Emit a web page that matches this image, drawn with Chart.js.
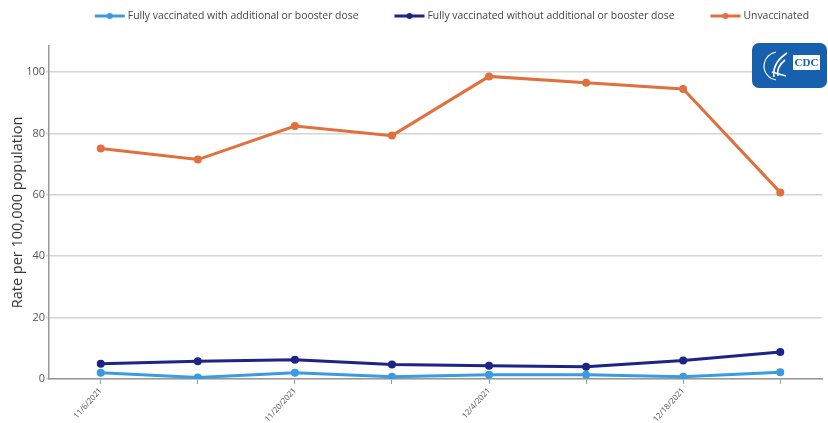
<!DOCTYPE html>
<html><head><meta charset="utf-8">
<script src="https://cdn.jsdelivr.net/npm/chart.js@4.4.0/dist/chart.umd.min.js"></script>
<style>html,body{margin:0;padding:0;background:#fff;}#wrap{width:828px;height:423px;position:relative;}</style>
</head><body><div id="wrap"><canvas id="c" width="828" height="423"></canvas></div>
<script>
const weeks = ["11/6/2021","11/13/2021","11/20/2021","11/27/2021","12/4/2021","12/11/2021","12/18/2021","12/25/2021"];
const booster = [2.0, 0.5, 2.0, 0.7, 1.4, 1.4, 0.7, 2.2];
const noBooster = [5.0, 5.8, 6.3, 4.7, 4.3, 4.0, 6.0, 8.8];
const unvaccinated = [75.1, 71.5, 82.4, 79.3, 98.6, 96.5, 94.5, 60.8];
const seriesNames = ["Fully vaccinated with additional or booster dose","Fully vaccinated without additional or booster dose","Unvaccinated"];
const colors = ["#3a9be3","#1c2486","#e0703d"];
const yTicks = [0,20,40,60,80,100];

const series=[booster,noBooster,unvaccinated];
const datasets = series.map((s,i)=>({
  label: seriesNames[i],
  data: s.map((v,j)=>({x:j,y:v})),
  borderColor: colors[i], backgroundColor: colors[i],
  borderWidth: 3, pointRadius: 2.5, pointHoverRadius: 3, tension: 0
}));

const legendFont = '10.4px "Open Sans"';
const customLegend = {
  id:'customLegend',
  afterDraw(chart){
    const ctx=chart.ctx; ctx.save();
    ctx.font=legendFont; ctx.textBaseline='middle'; ctx.textAlign='left';
    const y=16, sym=30, gap=3, between=36, right=809;
    const widths=chart.data.datasets.map(d=>sym+gap+ctx.measureText(d.label).width);
    let total=widths.reduce((a,b)=>a+b,0)+between*(widths.length-1);
    let x=right-total;
    chart.data.datasets.forEach((d,i)=>{
      ctx.strokeStyle=d.borderColor; ctx.lineWidth=3;
      ctx.beginPath(); ctx.moveTo(x,y); ctx.lineTo(x+sym,y); ctx.stroke();
      ctx.fillStyle=d.borderColor; ctx.beginPath(); ctx.arc(x+sym/2,y,3,0,Math.PI*2); ctx.fill();
      ctx.fillStyle='#444'; ctx.fillText(d.label,x+sym+gap,y+0.5);
      x+=widths[i]+between;
    });
    ctx.restore();
  }
};

const logo = {
  id:'logo',
  afterDraw(chart){
    const ctx=chart.ctx;
    const x=752,y=43,w=75,h=45,r=7;
    ctx.save();
    ctx.fillStyle='#1660ad';
    ctx.beginPath();ctx.roundRect(x,y,w,h,r);ctx.fill();
    ctx.strokeStyle='#fff';ctx.lineWidth=1.2;
    ctx.beginPath();ctx.arc(x+26,y+23,14,Math.PI*0.55,Math.PI*1.45);ctx.stroke();
    ctx.lineWidth=1.6;
    ctx.beginPath();ctx.moveTo(x+35,y+10);ctx.quadraticCurveTo(x+20,y+20,x+22,y+34);ctx.stroke();
    ctx.beginPath();ctx.moveTo(x+33,y+17);ctx.quadraticCurveTo(x+24,y+24,x+26,y+33);ctx.stroke();
    ctx.beginPath();ctx.moveTo(x+20,y+29);ctx.lineTo(x+34,y+33);ctx.stroke();
    ctx.fillStyle='#fff';ctx.fillRect(x+41,y+12,27,15);
    ctx.fillStyle='#1660ad';ctx.font='bold 11px "Liberation Serif", serif';
    ctx.textAlign='center';ctx.textBaseline='middle';ctx.fillText('CDC',x+54.5,y+20);
    ctx.restore();
  }
};

new Chart(document.getElementById('c'),{
  type:'line',
  data:{datasets},
  options:{
    responsive:false, animation:false,
    layout:{padding:{left:0,right:2,top:46,bottom:0}},
    plugins:{ legend:{display:false}, tooltip:{enabled:false} },
    scales:{
      x:{
        type:'linear', min:-0.533, max:7.43,
        afterBuildTicks(scale){ scale.ticks = weeks.map((w,i)=>({value:i})); },
        afterFit(scale){ scale.height = 44; },
        ticks:{
          autoSkip:false, maxRotation:48, minRotation:48, padding:2,
          color:'#555', font:{family:'"Open Sans"', size:8},
          callback(v){ return (v%2===0) ? weeks[v] : ''; }
        },
        grid:{display:true, drawOnChartArea:false, tickLength:5, color:'#999'},
        border:{display:true,color:'#999',width:1.5}
      },
      y:{
        min:0, max:108.5,
        afterBuildTicks(scale){ scale.ticks = yTicks.map(v=>({value:v})); },
        afterFit(scale){ scale.width = 49; },
        ticks:{color:'#555', font:{family:'"Open Sans"', size:11}, padding:1},
        grid:{color:'#d4d4d4', lineWidth:1.5, tickLength:3},
        border:{display:true,color:'#999',width:1.5},
        title:{display:true,text:'Rate per 100,000 population',color:'#333',font:{family:'"Open Sans"',size:14.5},padding:{top:9,bottom:0}}
      }
    }
  },
  plugins:[customLegend, logo]
});
</script></body></html>
